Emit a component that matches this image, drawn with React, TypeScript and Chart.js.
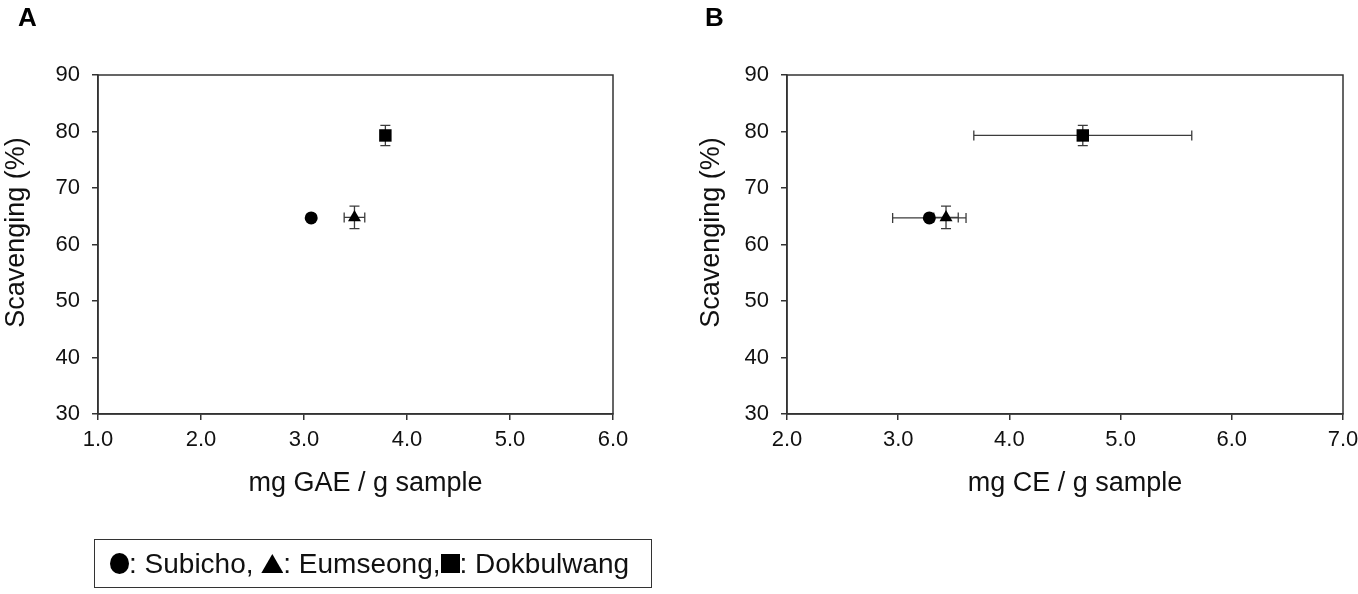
import React, { useRef, useEffect } from 'react';
import { Chart, ChartConfiguration, registerables } from 'chart.js';

Chart.register(...registerables);

// samples
const sampleNames = ['Subicho', 'Eumseong', 'Dokbulwang'];
const pointStyles = ['circle', 'triangle', 'rect'];
const pointRadii = [6.5, 7.5, 8.8];

// DPPH scavenging (%) with SD
const scavenging = [64.7, 64.8, 79.3];
const scavengingErr = [0.4, 2.0, 1.8];

// panel A: total phenolics (mg GAE / g sample)
const gaeValues = [3.07, 3.49, 3.79];
const gaeErr = [0.03, 0.1, 0.04];

// panel B: total flavonoids (mg CE / g sample)
const ceValues = [3.28, 3.43, 4.66];
const ceErr = [0.33, 0.11, 0.98];

const yTitle = 'Scavenging (%)';
const gaeTitle = 'mg GAE / g sample';
const ceTitle = 'mg CE / g sample';

const FONT = "'Liberation Sans', Arial, sans-serif";
const INK = '#111';
const LINE = '#333';

// draws x/y whiskers under the markers
const errorBarPlugin = {
  id: 'errorBars',
  beforeDatasetsDraw(chart: any) {
    const { ctx, scales } = chart;
    const x = scales.x;
    const y = scales.y;
    const cap = 5;
    ctx.save();
    ctx.strokeStyle = '#3c3c3c';
    ctx.lineWidth = 1.3;
    chart.data.datasets.forEach((ds: any) => {
      ds.data.forEach((p: any) => {
        const px = x.getPixelForValue(p.x);
        const py = y.getPixelForValue(p.y);
        ctx.beginPath();
        if (p.xErr) {
          const l = x.getPixelForValue(p.x - p.xErr);
          const r = x.getPixelForValue(p.x + p.xErr);
          ctx.moveTo(l, py); ctx.lineTo(r, py);
          ctx.moveTo(l, py - cap); ctx.lineTo(l, py + cap);
          ctx.moveTo(r, py - cap); ctx.lineTo(r, py + cap);
        }
        if (p.yErr) {
          const t = y.getPixelForValue(p.y + p.yErr);
          const b = y.getPixelForValue(p.y - p.yErr);
          ctx.moveTo(px, t); ctx.lineTo(px, b);
          ctx.moveTo(px - cap, t); ctx.lineTo(px + cap, t);
          ctx.moveTo(px - cap, b); ctx.lineTo(px + cap, b);
        }
        ctx.stroke();
      });
    });
    ctx.restore();
  },
};

// closes the plot box on top and right
const framePlugin = {
  id: 'frame',
  beforeDatasetsDraw(chart: any) {
    const { ctx, chartArea: a } = chart;
    ctx.save();
    ctx.strokeStyle = LINE;
    ctx.lineWidth = 1.5;
    ctx.strokeRect(a.left, a.top, a.right - a.left, a.bottom - a.top);
    ctx.restore();
  },
};

// axis titles sit a little off-centre in the original, so place them by hand
const axisTitlePlugin = {
  id: 'axisTitles',
  afterDraw(chart: any, _args: any, opts: any) {
    const { ctx, chartArea: a } = chart;
    ctx.save();
    ctx.fillStyle = INK;
    ctx.font = `27px ${FONT}`;
    ctx.textAlign = 'center';
    ctx.textBaseline = 'middle';
    ctx.fillText(opts.xText, (a.left + a.right) / 2 + 10, 484);
    ctx.translate(opts.yX, (a.top + a.bottom) / 2 - 12);
    ctx.rotate(-Math.PI / 2);
    ctx.fillText(opts.yText, 0, 0);
    ctx.restore();
  },
};

interface PanelProps {
  xValues: number[];
  xErr: number[];
  xMin: number;
  xMax: number;
  xTitle: string;
  padLeft: number;
  padRight: number;
  yWidth: number;
}

const ScatterPanel: React.FC<PanelProps> = ({ xValues, xErr, xMin, xMax, xTitle, padLeft, padRight, yWidth }) => {
  const canvasRef = useRef<HTMLCanvasElement>(null);
  const chartRef = useRef<Chart | null>(null);

  useEffect(() => {
    if (!canvasRef.current) return;
    if (chartRef.current) chartRef.current.destroy();

    const datasets = sampleNames.map((name, i) => ({
      label: name,
      data: [{ x: xValues[i], y: scavenging[i], xErr: xErr[i], yErr: scavengingErr[i] }],
      pointStyle: pointStyles[i],
      pointRadius: pointRadii[i],
      backgroundColor: '#000',
      borderColor: '#000',
      borderWidth: 0,
    }));

    const config: ChartConfiguration = {
      type: 'scatter',
      data: { datasets: datasets as any },
      options: {
        animation: false,
        responsive: true,
        maintainAspectRatio: false,
        layout: { padding: { left: padLeft, right: padRight, top: 75, bottom: 92 } },
        plugins: {
          legend: { display: false },
          tooltip: { enabled: false },
          axisTitles: { xText: xTitle, yText: yTitle, yX: padLeft + 17 },
        } as any,
        scales: {
          x: {
            type: 'linear',
            min: xMin,
            max: xMax,
            afterFit: (s: any) => {
              s.height = 88;
              s.paddingLeft = 0;
              s.paddingRight = 0;
            },
            ticks: {
              stepSize: 1,
              padding: 7,
              color: INK,
              font: { family: FONT, size: 22 },
              callback: (v: any) => Number(v).toFixed(1),
            },
            grid: { display: true, drawOnChartArea: false, drawTicks: true, tickLength: 6, color: LINE, lineWidth: 1.5 },
            border: { display: true, color: LINE, width: 1.5 },
          },
          y: {
            type: 'linear',
            min: 30,
            max: 90,
            afterFit: (s: any) => {
              s.width = yWidth;
              s.paddingTop = 0;
              s.paddingBottom = 0;
            },
            ticks: {
              stepSize: 10,
              padding: 12,
              color: INK,
              font: { family: FONT, size: 22 },
            },
            grid: { display: true, drawOnChartArea: false, drawTicks: true, tickLength: 6, color: LINE, lineWidth: 1.5 },
            border: { display: true, color: LINE, width: 1.5 },
          },
        },
      },
      plugins: [framePlugin, errorBarPlugin, axisTitlePlugin],
    };

    chartRef.current = new Chart(canvasRef.current, config);
    return () => {
      if (chartRef.current) {
        chartRef.current.destroy();
        chartRef.current = null;
      }
    };
  }, [xValues, xErr, xMin, xMax, xTitle, padLeft, padRight, yWidth]);

  return <canvas ref={canvasRef} />;
};

const panelLetter: React.CSSProperties = {
  position: 'absolute',
  top: 4,
  fontFamily: FONT,
  fontWeight: 'bold',
  fontSize: 26,
  lineHeight: 1,
  color: '#000',
};

// legend glyphs, drawn a bit larger than the text like the original
const Marker: React.FC<{ kind: string }> = ({ kind }) => {
  const base: React.CSSProperties = { display: 'inline-block', background: '#000', verticalAlign: 'middle' };
  if (kind === 'circle') return <span style={{ ...base, width: 19, height: 21, borderRadius: '50%' }} />;
  if (kind === 'triangle')
    return <span style={{ ...base, width: 22, height: 19, clipPath: 'polygon(50% 0, 100% 100%, 0 100%)' }} />;
  return <span style={{ ...base, width: 19, height: 19 }} />;
};

export default function App() {
  return (
    <div style={{ position: 'absolute', left: 0, top: 0, width: 1358, height: 594, background: '#fff', overflow: 'hidden' }}>
      <div style={{ position: 'absolute', left: 0, top: 0, width: 679, height: 594 }}>
        <ScatterPanel xValues={gaeValues} xErr={gaeErr} xMin={1} xMax={6} xTitle={gaeTitle} padLeft={0} padRight={66} yWidth={98} />
      </div>
      <div style={{ position: 'absolute', left: 679, top: 0, width: 679, height: 594 }}>
        <ScatterPanel xValues={ceValues} xErr={ceErr} xMin={2} xMax={7} xTitle={ceTitle} padLeft={16} padRight={15} yWidth={92} />
      </div>
      <div style={{ ...panelLetter, left: 18 }}>A</div>
      <div style={{ ...panelLetter, left: 705 }}>B</div>
      <div
        style={{
          position: 'absolute',
          left: 94,
          top: 539,
          width: 558,
          height: 49,
          boxSizing: 'border-box',
          border: '1.5px solid #333',
          display: 'flex',
          alignItems: 'center',
          paddingLeft: 15,
          fontFamily: FONT,
          fontSize: 28,
          color: INK,
          whiteSpace: 'pre',
        }}
      >
        <Marker kind="circle" />
        {`: ${sampleNames[0]}, `}
        <Marker kind="triangle" />
        {`: ${sampleNames[1]},`}
        <Marker kind="rect" />
        {`: ${sampleNames[2]}`}
      </div>
    </div>
  );
}
